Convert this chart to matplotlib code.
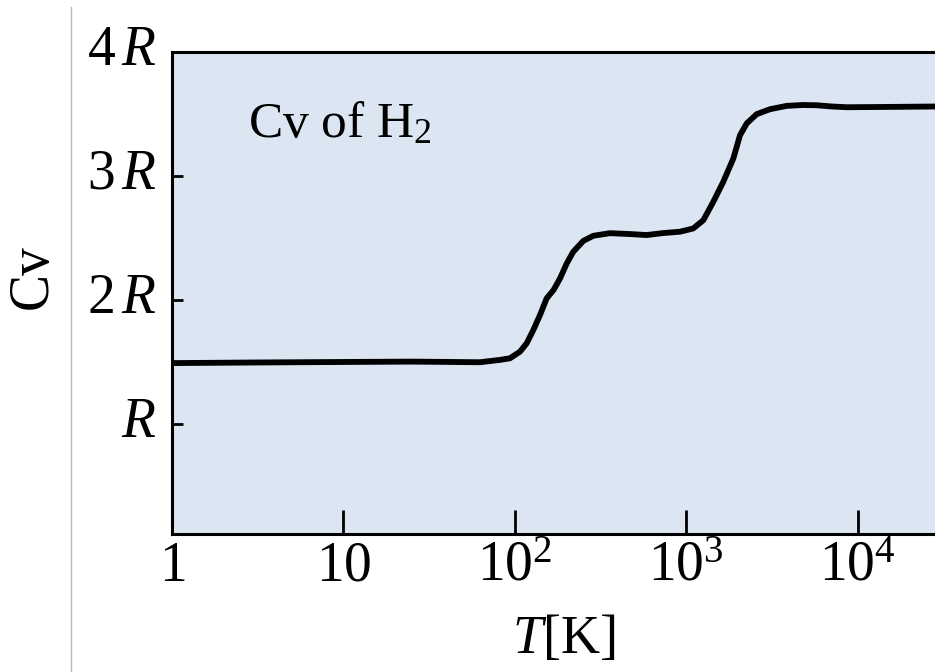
import numpy as np
import matplotlib
matplotlib.use("Agg")
import matplotlib.pyplot as plt
from matplotlib import transforms
from matplotlib.lines import Line2D

plt.rcParams['mathtext.fontset'] = 'custom'
plt.rcParams['mathtext.rm'] = 'Liberation Serif'
plt.rcParams['mathtext.it'] = 'Liberation Serif:italic'
plt.rcParams['mathtext.bf'] = 'Liberation Serif:bold'
plt.rcParams['font.family'] = ['Liberation Serif', 'DejaVu Serif']

# Data: log10(T [K]) and Cv in units of R
log_T = [0.0, 0.5, 1.0, 1.4, 1.797, 1.914, 1.972, 2.030, 2.069, 2.108, 2.147,
         2.186, 2.226, 2.264, 2.303, 2.341, 2.400, 2.458, 2.555, 2.672, 2.769,
         2.866, 2.964, 3.041, 3.100, 3.158, 3.216, 3.275, 3.314, 3.353, 3.411,
         3.489, 3.586, 3.680, 3.761, 3.850, 3.936, 4.131, 4.46]
cv_R = [1.488, 1.493, 1.497, 1.500, 1.495, 1.514, 1.527, 1.580, 1.647, 1.755,
        1.876, 2.011, 2.078, 2.172, 2.293, 2.387, 2.475, 2.516, 2.537, 2.530,
        2.522, 2.538, 2.549, 2.575, 2.642, 2.790, 2.951, 3.140, 3.328, 3.423,
        3.498, 3.538, 3.565, 3.572, 3.570, 3.560, 3.554, 3.556, 3.560]

x_tick_vals = [1, 10, 100, 1000, 10000]
x_tick_labels = ['$1$', '$10$', '$10^2$', '$10^3$', '$10^4$']
y_tick_vals = [1, 2, 3, 4]
y_tick_labels = [r'$R$', r'$2\,R$', r'$3\,R$', r'$4\,R$']

W, H = 935, 672
fig = plt.figure(figsize=(W / 100, H / 100), dpi=100)

left, right, top, bottom = 172, 935, 52, 534
ax = fig.add_axes([left / W, 1 - bottom / H, (right - left) / W, (bottom - top) / H])
ax.set_facecolor('#dce6f2')

T = 10 ** np.array(log_T)
ax.plot(T, cv_R, color='black', lw=4.2, solid_capstyle='round', solid_joinstyle='round')

ax.set_xscale('log')
ax.set_xlim(1, 10 ** ((right - left) / 171.4))
ax.set_ylim(0.108, 4.0)

ax.set_xticks(x_tick_vals)
ax.set_xticklabels(x_tick_labels)
ax.xaxis.set_minor_locator(matplotlib.ticker.NullLocator())
ax.set_yticks(y_tick_vals)
ax.set_yticklabels(y_tick_labels)

ax.tick_params(axis='x', direction='in', length=17, width=2, labelsize=40, pad=5)
ax.tick_params(axis='y', direction='in', length=8, width=2, labelsize=40, pad=11)

# shift y tick labels slightly upward
off = transforms.ScaledTranslation(0, 7 / 100, fig.dpi_scale_trans)
for lab in ax.get_yticklabels():
    lab.set_transform(lab.get_transform() + off)

for s in ['left', 'bottom', 'top']:
    ax.spines[s].set_linewidth(2.2)
ax.spines['right'].set_visible(False)

ax.text(248 / W, 1 - 137 / H, r'Cv of H$_2$', transform=fig.transFigure,
        fontsize=37, ha='left', va='baseline', family='Liberation Serif')

fig.text(33 / W, 1 - 277 / H, 'Cv', rotation=90, fontsize=40, ha='center', va='center',
         family='Liberation Serif')
fig.text(564 / W, 1 - 640 / H, r'$T$[K]', fontsize=39, ha='center', va='center')

# thin grey vertical line on the left
fig.add_artist(Line2D([71 / W, 71 / W], [0, 1 - 7 / H], transform=fig.transFigure,
                      color='#b8b8b8', lw=1.0))

fig.savefig('out.png', dpi=100)
